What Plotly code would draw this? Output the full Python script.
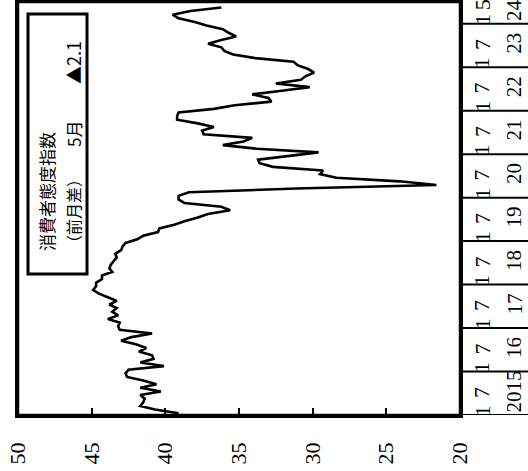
import plotly.graph_objects as go

# ---- data (monthly, seasonally adjusted) ----
years = [2015, 2016, 2017, 2018, 2019, 2020, 2021, 2022, 2023, 2024]
year_labels = ["2015", "16", "17", "18", "19", "20", "21", "22", "23", "24"]
v2015 = [39.1, 40.7, 41.7, 41.5, 41.4, 41.7, 40.3, 41.7, 40.6, 41.5, 42.6, 42.7]
v2016 = [42.5, 40.1, 41.7, 40.8, 40.9, 41.8, 41.3, 42.0, 43.0, 42.3, 40.9, 43.1]
v2017 = [43.2, 43.1, 43.9, 43.2, 43.6, 43.3, 43.8, 43.3, 43.9, 44.5, 44.9, 44.7]
v2018 = [44.7, 44.3, 44.3, 43.6, 43.8, 43.7, 43.5, 43.3, 43.4, 43.0, 42.9, 42.7]
v2019 = [41.9, 41.5, 40.5, 40.4, 39.4, 38.7, 37.8, 37.1, 35.6, 36.2, 38.7, 39.1]
v2020 = [39.1, 38.4, 31.1, 21.6, 24.1, 28.4, 29.5, 29.3, 32.7, 33.6, 33.7, 31.8]
v2021 = [29.6, 33.8, 36.1, 34.7, 34.1, 37.4, 37.5, 36.7, 37.8, 39.2, 39.2, 39.1]
v2022 = [36.7, 35.3, 32.8, 33.0, 34.1, 32.1, 30.2, 32.5, 30.8, 30.5, 29.9, 30.3]
v2023 = [31.0, 31.3, 33.9, 35.4, 36.0, 36.2, 37.1, 36.2, 35.2, 35.7, 36.1, 37.2]
v2024 = [38.0, 39.1, 39.5, 38.3, 36.2]
value_ticks = [50, 45, 40, 35, 30, 25, 20]
month_labels = ["1", "7"]
legend_title = "消費者態度指数"
legend_sub = "（前月差）"
legend_month = "5月"
legend_value = "▲2.1"

values = v2015 + v2016 + v2017 + v2018 + v2019 + v2020 + v2021 + v2022 + v2023 + v2024
month_idx = list(range(len(values)))

W, H = 528, 471
L, R, T, B = 18, 460, 2, 415  # plot area in px


def px_x(x):
    return (x - L) / (R - L)


def px_y(y):
    return (B - y) / (B - T)


SERIF = "Liberation Serif, DejaVu Serif, serif"
JP = "Noto Sans CJK JP, sans-serif"

fig = go.Figure()
fig.add_trace(go.Scatter(x=values, y=month_idx, mode="lines",
                         line=dict(color="black", width=2.6),
                         hoverinfo="skip", showlegend=False))

shapes = []
annotations = []


def ann(text, x, y, yref="paper", size=22, family=SERIF):
    return dict(text=text, x=x, y=y, xref="paper", yref=yref, showarrow=False,
                textangle=-90, xanchor="center", yanchor="middle",
                font=dict(family=family, size=size, color="black"))


# right strip: year separators and labels
for k in range(len(years)):
    yb = -0.5 + 12 * k
    shapes.append(dict(type="line", xref="paper", yref="y", x0=1, x1=px_x(530),
                       y0=yb, y1=yb, line=dict(color="black", width=2)))
    for j, ml in enumerate(month_labels):
        yi = 12 * k + (0.5 if j == 0 else 5.6)
        if yi <= 113.5:
            annotations.append(ann(ml, px_x(482), yi, yref="y"))
    yc = 12 * k + 6.0 if k < len(years) - 1 else 111.3
    annotations.append(ann(year_labels[k], px_x(514), yc, yref="y", size=21))
annotations.append(ann("5", px_x(482), 112.6, yref="y"))

# plot frame
shapes.append(dict(type="rect", xref="paper", yref="paper", x0=0, x1=1, y0=0, y1=1,
                   line=dict(color="black", width=2.5), layer="above"))

# legend box
shapes.append(dict(type="rect", xref="paper", yref="paper",
                   x0=px_x(28), x1=px_x(87), y0=px_y(274), y1=px_y(14),
                   line=dict(color="black", width=3), fillcolor="white"))
annotations += [
    ann(legend_title, px_x(46), px_y(192), size=17, family=JP),
    ann(legend_sub, px_x(73), px_y(211), size=16, family=JP),
    ann(legend_month, px_x(73), px_y(134), size=17, family=JP),
    ann(legend_value, px_x(73), px_y(63), size=18, family=JP),
]

fig.update_layout(
    width=W, height=H,
    margin=dict(l=L, r=W - R, t=T, b=H - B, pad=0, autoexpand=False),
    paper_bgcolor="white", plot_bgcolor="white",
    shapes=shapes, annotations=annotations,
    showlegend=False,
)
fig.update_xaxes(range=[50, 20], tickvals=value_ticks, ticktext=[str(v) for v in value_ticks],
                 tickangle=-90, ticks="inside", ticklen=7, tickwidth=2, tickcolor="black",
                 showline=True, linewidth=2.5, linecolor="black", mirror=True,
                 showgrid=False, zeroline=False, ticklabelstandoff=16, automargin=False,
                 tickfont=dict(family=SERIF, size=22, color="black"))
fig.update_yaxes(range=[-0.5, 113.5], showticklabels=False, ticks="", automargin=False,
                 showline=True, linewidth=2.5, linecolor="black", mirror=True,
                 showgrid=False, zeroline=False)

fig.write_html("out.html", config={"displayModeBar": False},
               post_script="document.body.style.margin='0px';")
